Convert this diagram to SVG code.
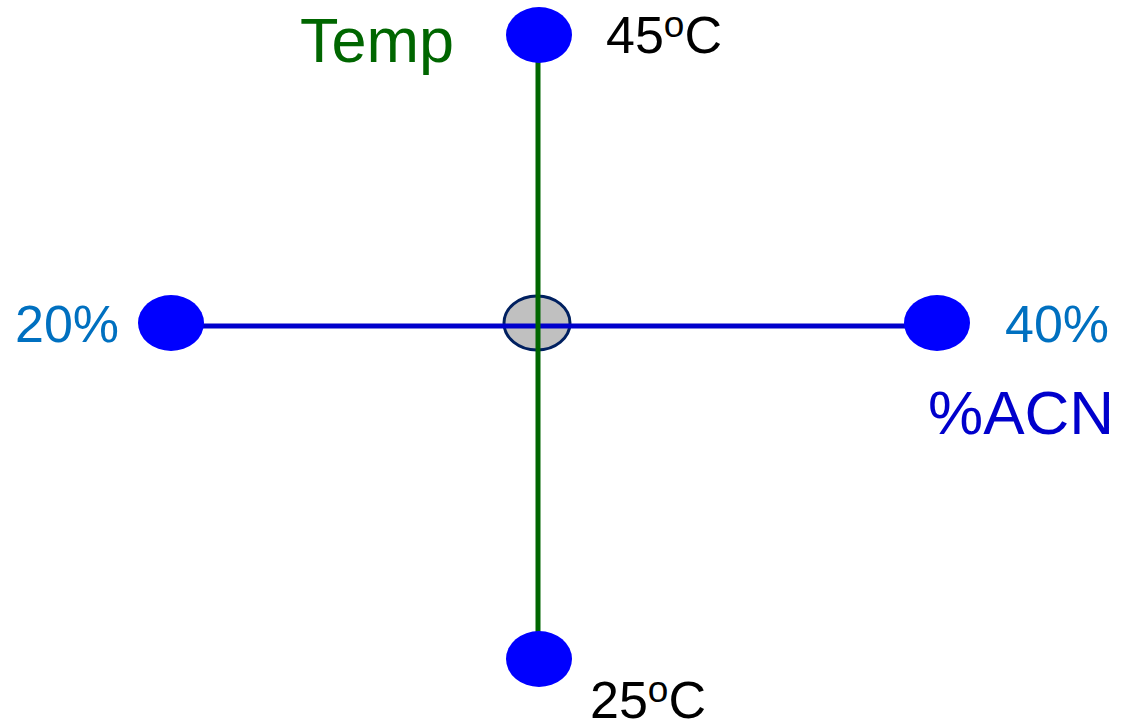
<svg xmlns="http://www.w3.org/2000/svg" width="1122" height="725" viewBox="0 0 1122 725">
<style>
.dot{fill:#0000FF}
.t{font-family:"Liberation Sans",Arial,sans-serif}
.k{fill:#000000}
.pc{fill:#0070C0}
</style>
<rect width="1122" height="725" fill="#FFFFFF"/>
<g id="center"><ellipse cx="537" cy="323" rx="33" ry="27" fill="#C0C0C0" stroke="#002060" stroke-width="3"/></g>
<g id="connectors">
<line x1="180" y1="326" x2="930" y2="326" stroke="#0000CC" stroke-width="5"/>
<line x1="538" y1="40" x2="538" y2="650" stroke="#006600" stroke-width="5"/>
</g>
<g id="node-top"><ellipse class="dot" cx="539" cy="35" rx="33" ry="28"/></g>
<g id="node-bottom"><ellipse class="dot" cx="539" cy="659" rx="33" ry="28"/></g>
<g id="node-left"><ellipse class="dot" cx="171" cy="323" rx="33" ry="28"/></g>
<g id="node-right"><ellipse class="dot" cx="937" cy="323" rx="33" ry="28"/></g>
<g id="labels">
<text class="t" x="300" y="62" font-size="63" fill="#006600">Temp</text>
<text class="t k" x="606" y="53" font-size="52">45<tspan font-size="37" dy="-16">o</tspan><tspan dy="16">C</tspan></text>
<text class="t k" x="590" y="718" font-size="52">25<tspan font-size="37" dy="-16">o</tspan><tspan dy="16">C</tspan></text>
<text class="t pc" x="15" y="342" font-size="52">20%</text>
<text class="t pc" x="1005" y="342" font-size="52">40%</text>
<text class="t" x="928" y="434" font-size="62" fill="#0000CC">%ACN</text>
</g>
</svg>
